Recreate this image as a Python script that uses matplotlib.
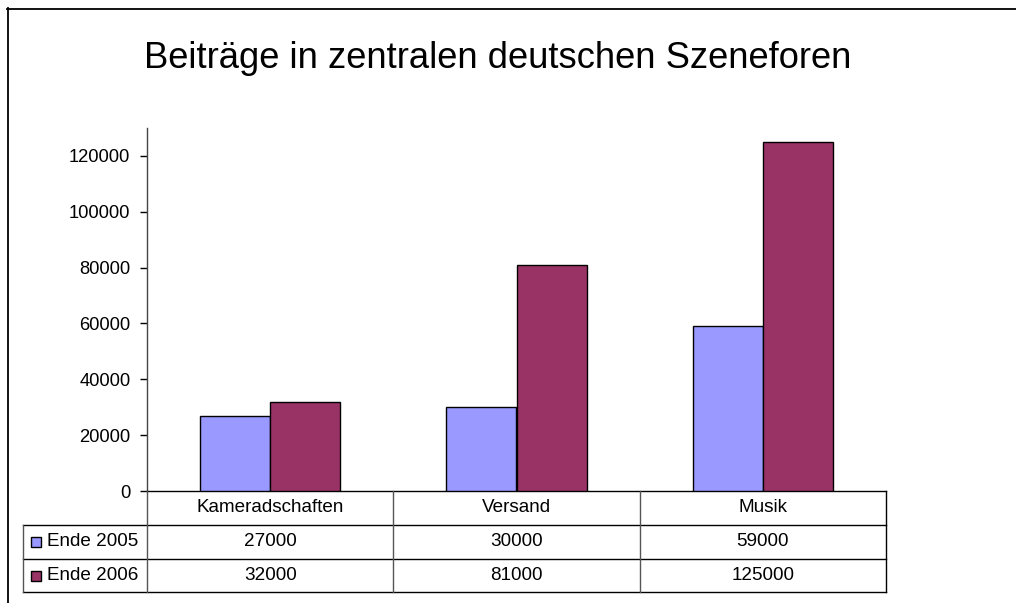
import matplotlib
matplotlib.use("Agg")
import matplotlib.pyplot as plt
from matplotlib.lines import Line2D
from matplotlib.patches import Rectangle
import numpy as np

plt.rcParams['font.family'] = ['Liberation Sans', 'DejaVu Sans']

title = "Beiträge in zentralen deutschen Szeneforen"
categories = ["Kameradschaften", "Versand", "Musik"]
series_names = ["Ende 2005", "Ende 2006"]
values_2005 = [27000, 30000, 59000]
values_2006 = [32000, 81000, 125000]
colors = ["#9999FF", "#993366"]
yticks = [0, 20000, 40000, 60000, 80000, 100000, 120000]

W, H = 1016, 603
fig = plt.figure(figsize=(W / 100, H / 100), dpi=100)

def fx(px):
    return px / W

def fy(py):
    return 1 - py / H

ax_left, ax_right, ax_top, ax_bottom = 147, 886, 128, 491
ax = fig.add_axes([fx(ax_left), fy(ax_bottom), fx(ax_right) - fx(ax_left), fy(ax_top) - fy(ax_bottom)])

x = np.arange(len(categories))
bw = 0.285
for vals, col, off in [(values_2005, colors[0], -bw / 2), (values_2006, colors[1], bw / 2)]:
    ax.bar(x + off, vals, width=bw, color=col, edgecolor="black", linewidth=1.0, zorder=3)

ax.set_xlim(-0.5, len(categories) - 0.5)
ax.set_ylim(0, 130000)
ax.set_yticks(yticks)
ax.set_yticklabels([str(v) for v in yticks], fontsize=13.2)
ax.tick_params(axis='y', direction='out', length=5, width=1, pad=7, colors='black')
ax.set_xticks([])
for s in ['top', 'right']:
    ax.spines[s].set_visible(False)
ax.spines['left'].set_linewidth(1.0)
ax.spines['bottom'].set_linewidth(1.0)
ax.spines['left'].set_color('#444444')

# Data table below the axes (figure pixel coordinates)
row_y = [491, 525, 559, 592]
label_left = 23
col_edges = [ax_left + i * (ax_right - ax_left) / len(categories) for i in range(len(categories) + 1)]

def hline(y, x0, x1, color="black", lw=1.0):
    fig.add_artist(Line2D([fx(x0), fx(x1)], [fy(y), fy(y)], color=color, lw=lw))

def vline(xp, y0, y1, color="#555555", lw=1.0):
    fig.add_artist(Line2D([fx(xp), fx(xp)], [fy(y0), fy(y1)], color=color, lw=lw))

for yy in row_y[1:]:
    hline(yy, label_left, ax_right)
vline(label_left, row_y[1], row_y[3])
for i, xe in enumerate(col_edges):
    vline(xe, row_y[0], row_y[3], color="black" if i == len(col_edges) - 1 else "#555555")

fs = 13.6
for i, cat in enumerate(categories):
    cx = (col_edges[i] + col_edges[i + 1]) / 2
    fig.text(fx(cx), fy((row_y[0] + row_y[1]) / 2), cat, ha='center', va='center', fontsize=fs)
    fig.text(fx(cx), fy((row_y[1] + row_y[2]) / 2), str(values_2005[i]), ha='center', va='center', fontsize=fs)
    fig.text(fx(cx), fy((row_y[2] + row_y[3]) / 2), str(values_2006[i]), ha='center', va='center', fontsize=fs)

for r, (name, col) in enumerate(zip(series_names, colors)):
    cy = (row_y[r + 1] + row_y[r + 2]) / 2
    sq = 10
    fig.add_artist(Rectangle((fx(30.5), fy(cy + sq / 2)), fx(sq), sq / H, facecolor=col,
                             edgecolor="black", lw=1.0, transform=fig.transFigure))
    fig.text(fx(47), fy(cy), name, ha='left', va='center', fontsize=fs)

# Title
fig.text(fx(498), fy(58), title, ha='center', va='center', fontsize=26.2)

# Outer frame (top and left edges)
fig.add_artist(Line2D([fx(7), 1], [fy(8.5), fy(8.5)], color="black", lw=1.3))
fig.add_artist(Line2D([fx(7.5), fx(7.5)], [fy(8), 0], color="black", lw=1.3))

fig.savefig("out.png", dpi=100)
